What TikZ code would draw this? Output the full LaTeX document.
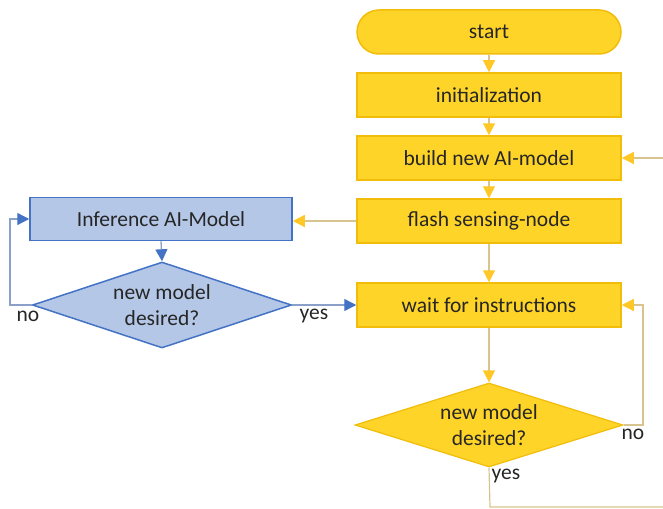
\documentclass[tikz,border=0pt]{standalone}
\usepackage{fontspec}
\setmainfont{Carlito}
\usetikzlibrary{shapes.geometric,arrows.meta}
\definecolor{yfill}{HTML}{FFD428}
\definecolor{ydraw}{HTML}{F2BC0A}
\definecolor{yline}{HTML}{D8C58E}
\definecolor{ytip}{HTML}{FFC826}
\definecolor{bfill}{HTML}{B4C7E7}
\definecolor{bdraw}{HTML}{4472C4}
\definecolor{bline}{HTML}{8AA0C8}
\definecolor{txt}{HTML}{262626}
\begin{document}
\begin{tikzpicture}[x=1pt,y=-1pt,
  every node/.style={font=\fontsize{21.5}{26}\selectfont, text=txt},
  ybox/.style={draw=ydraw, fill=yfill, line width=1.5pt, minimum width=264pt, minimum height=44pt, inner sep=0pt},
  bbox/.style={draw=bdraw, fill=bfill, line width=1.5pt, minimum width=262pt, minimum height=43pt, inner sep=0pt},
  ydiam/.style={diamond, draw=ydraw, fill=yfill, line width=1.2pt, minimum width=268pt, minimum height=84pt, inner sep=0pt, shape aspect=3.2, align=center},
  bdiam/.style={diamond, draw=bdraw, fill=bfill, line width=1.5pt, minimum width=259pt, minimum height=86pt, inner sep=0pt, shape aspect=3.0, align=center},
  yarr/.style={draw=yline, line width=1.2pt, -{Triangle[length=12pt,width=12pt,color=ytip]}},
  yln/.style={draw=yline, line width=1.2pt},
  barr/.style={draw=bline, line width=1.3pt, -{Triangle[length=12pt,width=12pt,color=bdraw]}},
  lbl/.style={inner sep=0pt}
]
\useasboundingbox (0,0) rectangle (663,508);

\node[ybox, rounded corners=22pt] (start) at (489,32) {start};
\node[ybox] (init) at (489,95) {initialization};
\node[ybox] (build) at (489,158) {build new AI-model};
\node[ybox] (flash) at (489,221) {flash sensing-node};
\node[ybox] (wait) at (489,305) {wait for instructions};
\node[ydiam] (ydia) at (489,425) {new model\\desired?};

\node[bbox] (inf) at (161,219) {Inference AI-Model};
\node[bdiam] (bdia) at (162,305) {new model\\desired?};

\coordinate (bin) at (663,158);
\coordinate (ynoc) at (643,425);
\coordinate (yyes1) at (490,507);
\coordinate (yyes2) at (663,507);
\coordinate (bnoc) at (10,305);

\draw[yarr] (start.south) -- (init.north);
\draw[yarr] (init.south) -- (build.north);
\draw[yarr] (build.south) -- (flash.north);
\draw[yarr] (flash.south) -- (wait.north);
\draw[yarr] (wait.south) -- (ydia.north);
\draw[yarr] (bin) -- (build.east);
\draw[yarr] (ydia.east) -- (ynoc) |- (wait.east);
\draw[yln] (ydia.south) -- (yyes1) -- (yyes2);
\draw[yarr] (flash.west) -- (inf.east |- flash.west);

\draw[barr] (inf.south) -- (bdia.north);
\draw[barr] (bdia.east) -- (wait.west);
\draw[barr] (bdia.west) -- (bnoc) |- (inf.west);

\node[lbl] (lno1) at (633,434) {no};
\node[lbl] (lyes1) at (506,476) {yes};
\node[lbl] (lno2) at (28,316) {no};
\node[lbl] (lyes2) at (314,316) {yes};
\end{tikzpicture}
\end{document}
